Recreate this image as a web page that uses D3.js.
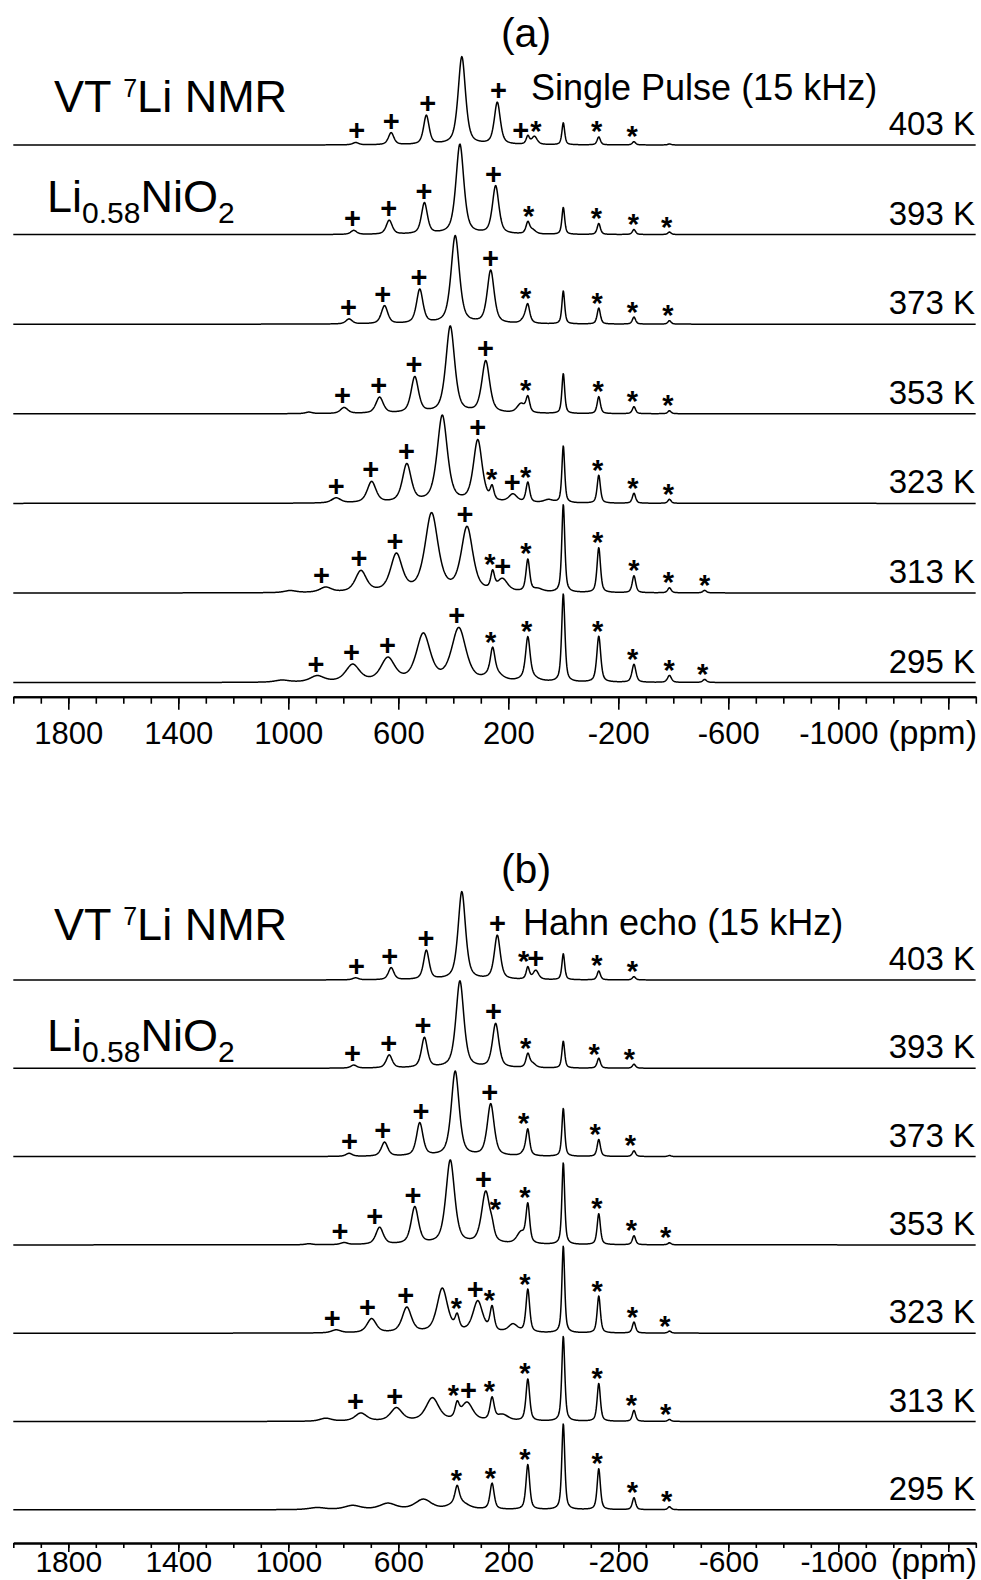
<!DOCTYPE html>
<html><head><meta charset="utf-8">
<script src="https://cdn.jsdelivr.net/npm/d3@7"></script>
<style>
body{margin:0;background:#fff}
svg{display:block}
text{font-family:"Liberation Sans",Arial,Helvetica,sans-serif;fill:#000}
</style></head><body>
<svg id="c" width="981" height="1580"></svg>
<script>
// ---------------- data ----------------
const temperatures = ["403 K","393 K","373 K","353 K","323 K","313 K","295 K"];
const majorTicks = [1800,1400,1000,600,200,-200,-600,-1000,-1400];
const tickLabels = ["1800","1400","1000","600","200","-200","-600","-1000",""];
const minorTicks = d3.range(2000,-1501,-100);

// peaks: [shift (ppm), intensity, FWHM (ppm)]
const peaksA403 = [[755,2.3,26],[626,12,24],[498,29,24],[369,88,32],[240,42,26],[105,8,24],[129,8,14],[0,22,12],[-129,8,14],[-257,3.3,14],[-386,1,14]];
const peaksA393 = [[762,4,26],[633,14,26],[505,31,26],[376,90,34],[246,48,28],[112,4,28],[129,11,16],[0,27,12],[-129,11,14],[-257,5,14],[-386,2.5,14]];
const peaksA373 = [[779,5,28],[650,18,28],[522,34,28],[393,88,36],[264,53,30],[136,7,30],[129,14,16],[0,33,12],[-129,16,14],[-257,7,14],[-386,3.5,14]];
const peaksA353 = [[925,1.5,30],[797,6,32],[668,16,32],[540,36,32],[411,87,38],[282,52,34],[154,9,34],[129,15,16],[0,40,12],[-129,17,14],[-257,7,14],[-386,3,14]];
const peaksA323 = [[826,5,40],[697,21,38],[569,38,38],[440,87,44],[311,62,38],[183,8,36],[54,3,40],[259,13,16],[129,20,16],[0,57,12],[-129,28,14],[-257,10,14],[-386,4,14]];
const peaksA313 = [[993,2,50],[864,5,50],[736,21,48],[607,37,50],[479,78,56],[350,64,50],[221,12,44],[93,3,44],[257,17,16],[129,32,16],[0,88,13],[-129,45,15],[-257,17,15],[-386,5,15],[-514,2.5,16]];
const peaksA295 = [[1023,2,60],[895,6,60],[766,17,60],[638,23,60],[509,47,60],[380,53,62],[252,9,60],[123,5,60],[257,24,19],[129,40,19],[0,88,14],[-129,46,17],[-257,18,17],[-386,7,17],[-514,3,17]];

const peaksB403 = [[755,2,26],[626,12,24],[498,29,24],[369,88,32],[240,44,26],[100,9,24],[129,12,14],[0,26,12],[-129,9,14],[-257,3.3,14]];
const peaksB393 = [[762,3,26],[633,13,26],[505,30,26],[376,87,34],[246,44,28],[112,4,28],[129,13,16],[0,27,12],[-129,10,14],[-257,4,14]];
const peaksB373 = [[779,3,28],[650,14,28],[522,33,28],[393,85,34],[264,52,30],[136,5,30],[129,23,15],[0,48,12],[-129,17,14],[-257,5.7,14],[-386,1,14]];
const peaksB353 = [[925,1,30],[797,2,30],[668,17,32],[540,37,32],[411,84,38],[282,52,36],[154,11,36],[259,8,18],[129,38,16],[0,82,12],[-129,31,14],[-257,9,14],[-386,2,14]];
const peaksB323 = [[826,3,40],[697,14,40],[569,25,40],[440,44,46],[311,31,42],[183,8,40],[386,14,18],[259,24,18],[129,43,16],[0,87,12],[-129,37,14],[-257,11,14],[-386,2,14]];
const peaksB313 = [[864,3,50],[736,8,50],[607,13,50],[476,23,56],[350,18,50],[221,6,50],[386,14,18],[259,22,18],[129,42,16],[0,85,13],[-129,38,14],[-257,11,14],[-386,2,14]];
const peaksB295 = [[895,2,70],[766,4,70],[638,6,70],[509,10,70],[380,8,70],[386,16,18],[259,26,18],[129,45,16],[0,86,13],[-129,41,14],[-257,12,14],[-386,3,14]];

// markers: [symbol, ppm]
const marksA403 = [["+",751],["+",626],["+",493],["+",236],["+",155],["*",100],["*",-121],["*",-250]];
const marksA393 = [["+",767],["+",635],["+",507],["+",254],["*",126],["*",-120],["*",-255],["*",-376]];
const marksA373 = [["+",781],["+",657],["+",525],["+",265],["*",137],["*",-123],["*",-251],["*",-380]];
const marksA353 = [["+",803],["+",671],["+",543],["+",283],["*",137],["*",-127],["*",-251],["*",-380]];
const marksA323 = [["+",826],["+",700],["+",570],["+",311],["*",261],["+",186],["*",137],["*",-125],["*",-253],["*",-382]];
const marksA313 = [["+",879],["+",743],["+",612],["+",358],["*",267],["+",220],["*",136],["*",-125],["*",-257],["*",-382],["*",-514]];
const marksA295 = [["+",899],["+",770],["+",639],["+",388],["*",264],["*",133],["*",-125],["*",-252],["*",-385],["*",-507]];

const marksB403 = [["+",752],["+",631],["+",499],["+",239],["*",144],["+",100],["*",-122],["*",-251]];
const marksB393 = [["+",767],["+",635],["+",510],["+",254],["*",137],["*",-112],["*",-240]];
const marksB373 = [["+",778],["+",657],["+",518],["+",268],["*",144],["*",-116],["*",-244]];
const marksB353 = [["+",812],["+",686],["+",547],["+",290],["*",247],["*",140],["*",-122],["*",-248],["*",-372]];
const marksB323 = [["+",840],["+",712],["+",573],["*",389],["+",320],["*",269],["*",140],["*",-123],["*",-251],["*",-369]];
const marksB313 = [["+",756],["+",613],["*",400],["+",345],["*",269],["*",140],["*",-123],["*",-248],["*",-372]];
const marksB295 = [["*",389],["*",265],["*",140],["*",-123],["*",-251],["*",-376]];

const panelA = {peaks:[peaksA403,peaksA393,peaksA373,peaksA353,peaksA323,peaksA313,peaksA295],
                marks:[marksA403,marksA393,marksA373,marksA353,marksA323,marksA313,marksA295]};
const panelB = {peaks:[peaksB403,peaksB393,peaksB373,peaksB353,peaksB323,peaksB313,peaksB295],
                marks:[marksB403,marksB393,marksB373,marksB353,marksB323,marksB313,marksB295]};

// ---------------- drawing ----------------
const svg = d3.select("#c");
const x = d3.scaleLinear().domain([2000,-1500]).range([13.3,975.8]);
const inten = d3.scaleLinear().domain([0,100]).range([0,100]);

function spectrum(peaks){
  const pts=[];
  for(let p=2000;p>=-1500;p-=1.5){
    let v=0;
    for(const [c,h,w] of peaks){
      const d=(p-c)/w, d2=4*d*d;
      v+=h*(0.6/(1+d2)+0.4*Math.exp(-Math.LN2*d2));
    }
    pts.push([p,v]);
  }
  return pts;
}

function drawPanel(panel, opts){
  const base = d3.scaleLinear().domain([0,6]).range([opts.top, opts.top+6*opts.step]);
  panel.peaks.forEach((pk,i)=>{
    const b = base(i);
    const pts = spectrum(pk);
    svg.append("path").datum(pts)
      .attr("fill","none").attr("stroke","#000").attr("stroke-width",1.5).attr("stroke-linejoin","round")
      .attr("d", d3.line().x(d=>x(d[0])).y(d=>b-inten(d[1])));
    svg.append("text").attr("x",975).attr("y",b-10).attr("text-anchor","end")
      .attr("font-size",33).text(temperatures[i]);
    panel.marks[i].forEach(([s,p])=>{
      const px=x(p);
      let vm=0;
      pts.forEach(d=>{ if(Math.abs(x(d[0])-px)<=4 && d[1]>vm) vm=d[1]; });
      const c = b - inten(vm) - 12;
      svg.append("text").attr("x",px).attr("y", c + (s==="+"?10:16.5))
        .attr("text-anchor","middle").attr("font-size",29).attr("font-weight","bold").text(s);
    });
  });
  // axis
  const gm = svg.append("g").attr("transform",`translate(0,${opts.axisY})`)
    .call(d3.axisBottom(x).tickValues(minorTicks).tickSize(opts.minor).tickSizeOuter(0).tickFormat(""));
  const gM = svg.append("g").attr("transform",`translate(0,${opts.axisY})`)
    .call(d3.axisBottom(x).tickValues(majorTicks).tickSize(opts.major).tickSizeOuter(0).tickPadding(opts.pad)
      .tickFormat((d,i)=>tickLabels[i]));
  [gm,gM].forEach(g=>{
    g.attr("font-family",null);
    g.select(".domain").attr("stroke","#000").attr("stroke-width",2);
    g.selectAll(".tick line").attr("stroke","#000").attr("stroke-width",1.6);
  });
  gM.selectAll(".tick text").attr("font-size",opts.fs).attr("fill","#000");
  svg.append("text").attr("x",977).attr("y",opts.labelBase).attr("text-anchor","end")
    .attr("font-size",opts.fs+3).text("(ppm)");
  // titles
  svg.append("text").attr("x",526).attr("y",opts.titleY).attr("text-anchor","middle")
    .attr("font-size",41).text(opts.title);
  svg.append("text").attr("x",opts.subX).attr("y",opts.subY).attr("font-size",36).text(opts.sub);
  const t1 = svg.append("text").attr("x",54).attr("y",opts.vtY).attr("font-size",45);
  t1.append("tspan").text("VT ");
  t1.append("tspan").attr("font-size",25).attr("dy",-15).text("7");
  t1.append("tspan").attr("dy",15).text("Li NMR");
  const t2 = svg.append("text").attr("x",47).attr("y",opts.liY).attr("font-size",45);
  t2.append("tspan").text("Li");
  t2.append("tspan").attr("font-size",30).attr("dy",11).text("0.58");
  t2.append("tspan").attr("dy",-11).text("NiO");
  t2.append("tspan").attr("font-size",30).attr("dy",11).text("2");
}

drawPanel(panelA,{top:145,step:89.6,axisY:696.7,minor:7,major:13,pad:12,fs:31,labelBase:743.5,title:"(a)",titleY:47,
  sub:"Single Pulse (15 kHz)",subX:531,subY:100,vtY:111.5,liY:211.5});
drawPanel(panelB,{top:980,step:88.3,axisY:1543,minor:5,major:9,pad:-1,fs:30,labelBase:1572,title:"(b)",titleY:883,
  sub:"Hahn echo (15 kHz)",subX:523,subY:935,vtY:940,liY:1051});
</script>
</body></html>
